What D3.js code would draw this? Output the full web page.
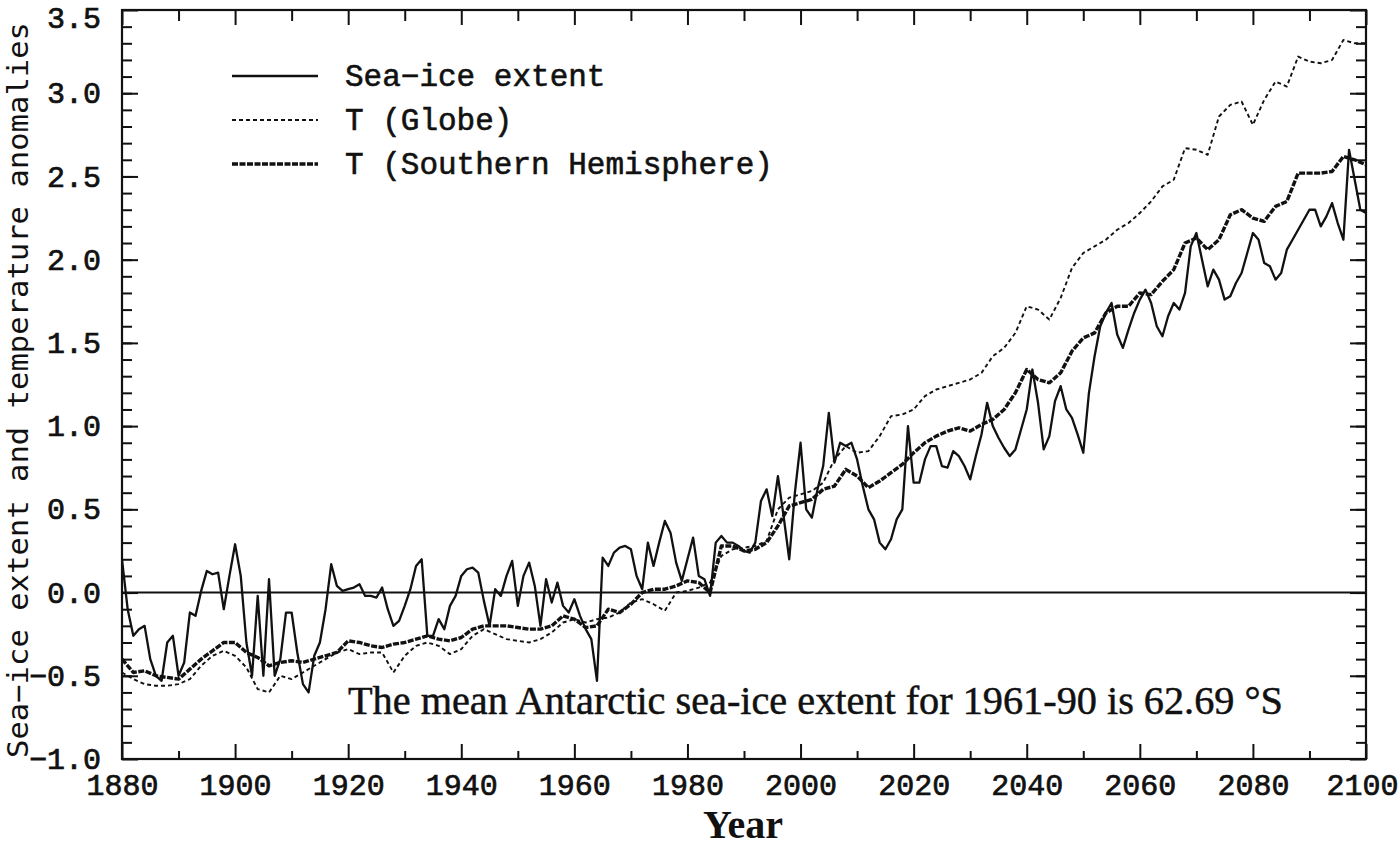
<!DOCTYPE html>
<meta charset="utf-8">
<style>
  body { margin: 0; background: #fff; }
  svg { display: block; }
</style>
<svg width="1400" height="849"></svg>
<script src="https://cdn.jsdelivr.net/npm/d3@7"></script>
<script>

// yearly sea-ice extent anomaly
var iceYears = d3.range(1880, 2101);
var seaIce = [
  0.2, -0.1, -0.26, -0.22, -0.2, -0.4, -0.5, -0.53, -0.3, -0.26,
  -0.5, -0.42, -0.12, -0.14, 0.01, 0.13, 0.11, 0.12, -0.1, 0.1,
  0.29, 0.1, -0.3, -0.5, -0.02, -0.5, 0.08, -0.5, -0.4, -0.12,
  -0.12, -0.36, -0.55, -0.6, -0.38, -0.3, -0.1, 0.17, 0.04, 0.01,
  0.02, 0.03, 0.05, -0.02, -0.02, -0.03, 0.03, -0.1, -0.2, -0.17,
  -0.08, 0.02, 0.16, 0.2, -0.26, -0.26, -0.16, -0.22, -0.08, -0.02,
  0.1, 0.14, 0.15, 0.12, -0.05, -0.2, 0.02, -0.02, 0.1, 0.19,
  -0.08, 0.1, 0.18, 0.04, -0.2, 0.08, -0.06, 0.06, -0.08, -0.12,
  -0.04, -0.14, -0.22, -0.28, -0.53, 0.21, 0.16, 0.24, 0.27, 0.28,
  0.26, 0.1, 0.02, 0.3, 0.16, 0.3, 0.43, 0.36, 0.18, 0.07,
  0.2, 0.33, 0.1, 0.08, -0.02, 0.3, 0.34, 0.3, 0.3, 0.28,
  0.25, 0.24, 0.3, 0.55, 0.62, 0.46, 0.7, 0.46, 0.2, 0.6,
  0.9, 0.5, 0.45, 0.62, 0.76, 1.08, 0.78, 0.9, 0.88, 0.9,
  0.8, 0.64, 0.5, 0.44, 0.3, 0.26, 0.32, 0.44, 0.5, 1.0,
  0.66, 0.66, 0.8, 0.88, 0.88, 0.76, 0.75, 0.85, 0.82, 0.76,
  0.68, 0.82, 0.95, 1.14, 1.0, 0.93, 0.87, 0.82, 0.86, 0.98,
  1.1, 1.34, 1.14, 0.86, 0.94, 1.15, 1.24, 1.1, 1.05, 0.95,
  0.84, 1.2, 1.42, 1.6, 1.68, 1.74, 1.55, 1.47, 1.58, 1.68,
  1.76, 1.82, 1.74, 1.6, 1.54, 1.66, 1.74, 1.7, 1.8, 2.08,
  2.16, 2.0, 1.84, 1.94, 1.88, 1.76, 1.78, 1.86, 1.92, 2.04,
  2.16, 2.12, 1.98, 1.96, 1.88, 1.92, 2.06, 2.12, 2.18, 2.24,
  2.3, 2.3, 2.2, 2.26, 2.34, 2.22, 2.12, 2.66, 2.48, 2.3,
  2.28
];

// temperatures every second year
var tempYears = d3.range(1880, 2101, 2);
var tGlobe = [
  -0.48, -0.52, -0.55, -0.56, -0.56, -0.55, -0.52, -0.44, -0.38, -0.35,
  -0.38, -0.45, -0.58, -0.6, -0.5, -0.52, -0.48, -0.44, -0.4, -0.36,
  -0.34, -0.37, -0.36, -0.36, -0.48, -0.38, -0.32, -0.3, -0.32, -0.37,
  -0.34, -0.26, -0.22, -0.25, -0.28, -0.29, -0.3, -0.28, -0.24, -0.18,
  -0.16, -0.18, -0.16, -0.15, -0.12, -0.06, -0.04, -0.07, -0.11, 0.0,
  0.01, 0.03, 0.06, 0.22, 0.26, 0.27, 0.28, 0.31, 0.5, 0.57,
  0.59, 0.61, 0.66, 0.8, 0.88, 0.84, 0.85, 0.94, 1.06, 1.07,
  1.1, 1.18, 1.22, 1.24, 1.26, 1.28, 1.32, 1.42, 1.47, 1.56,
  1.72, 1.7, 1.64, 1.77, 1.95, 2.04, 2.08, 2.12, 2.18, 2.22,
  2.28, 2.35, 2.44, 2.48, 2.67, 2.66, 2.63, 2.86, 2.93, 2.95,
  2.81, 2.96, 3.07, 3.04, 3.22, 3.19, 3.18, 3.2, 3.32, 3.3,
  3.3
];
var tSouth = [
  -0.4, -0.48, -0.47, -0.5, -0.51, -0.52, -0.46, -0.4, -0.35, -0.3,
  -0.3, -0.36, -0.39, -0.44, -0.42, -0.41, -0.42, -0.4, -0.38, -0.36,
  -0.29, -0.3, -0.32, -0.33, -0.31, -0.3, -0.28, -0.26, -0.28, -0.29,
  -0.27, -0.22, -0.2, -0.2, -0.2, -0.21, -0.22, -0.22, -0.2, -0.14,
  -0.16, -0.21, -0.2, -0.1, -0.12, -0.07, 0.0, 0.02, 0.02, 0.04,
  0.07, 0.06, 0.0, 0.28, 0.28, 0.25, 0.26, 0.3, 0.4, 0.52,
  0.54, 0.56, 0.62, 0.64, 0.74, 0.7, 0.63, 0.67, 0.72, 0.77,
  0.84, 0.9, 0.94, 0.97, 0.99, 0.97, 1.01, 1.04, 1.1, 1.2,
  1.34, 1.28, 1.26, 1.32, 1.45, 1.53, 1.56, 1.68, 1.72, 1.72,
  1.8, 1.79, 1.87, 1.94, 2.1, 2.13, 2.06, 2.12, 2.27, 2.3,
  2.25, 2.23, 2.32, 2.35, 2.52, 2.52, 2.52, 2.53, 2.62, 2.6,
  2.57
];

var xMajor = d3.range(1880, 2101, 20),
    xMid = d3.range(1890, 2100, 20),
    yMajor = d3.range(-1, 3.51, 0.5),
    yMinor = d3.range(-0.9, 3.5, 0.1);

var legendLabels = ["Sea\u2212ice extent", "T (Globe)", "T (Southern Hemisphere)"];

var svg = d3.select("svg"),
    margin = {top: 10, right: 34, bottom: 90, left: 122},
    width = +svg.attr("width") - margin.left - margin.right,
    height = +svg.attr("height") - margin.top - margin.bottom,
    g = svg.append("g").attr("transform", "translate(" + margin.left + "," + margin.top + ")");

var x = d3.scaleLinear().domain([1880, 2100]).range([0, width]);
var y = d3.scaleLinear().domain([-1, 3.5]).range([height, 0]);

var mono = "'Liberation Mono', 'Courier New', monospace";

function styleAxis(sel) {
  sel.select(".domain").remove();
  sel.selectAll("line").attr("stroke", "#111").attr("stroke-width", 2);
  sel.selectAll("text").attr("fill", "#111").attr("stroke", "#111").attr("stroke-width", 0.7);
  sel.attr("font-family", mono).attr("font-size", 30);
}

// ticks, all pointing inward
var yLabels = g.append("g").call(d3.axisLeft(y).tickValues(yMajor).tickSize(-16).tickPadding(21).tickFormat(d3.format(".1f"))).call(styleAxis);
yLabels.selectAll("text").filter(function(d) { return d > 3.4; }).attr("dy", "0.58em");
g.append("g").call(d3.axisLeft(y).tickValues(yMinor).tickSize(-10).tickFormat("")).call(styleAxis);
g.append("g").attr("transform", "translate(" + width + ",0)").call(d3.axisRight(y).tickValues(yMajor).tickSize(-16).tickFormat("")).call(styleAxis);
g.append("g").attr("transform", "translate(" + width + ",0)").call(d3.axisRight(y).tickValues(yMinor).tickSize(-10).tickFormat("")).call(styleAxis);

var xLabels = g.append("g").attr("transform", "translate(0," + height + ")")
  .call(d3.axisBottom(x).tickValues(xMajor).tickSize(-15).tickPadding(15).tickFormat(d3.format("d"))).call(styleAxis);
xLabels.selectAll("text").filter(function(d) { return d === 2100; }).attr("text-anchor", "end").attr("dx", 32);
g.append("g").attr("transform", "translate(0," + height + ")")
  .call(d3.axisBottom(x).tickValues(xMid).tickSize(-8).tickFormat("")).call(styleAxis);
g.append("g").call(d3.axisTop(x).tickValues(xMajor).tickSize(-15).tickFormat("")).call(styleAxis);
g.append("g").call(d3.axisTop(x).tickValues(xMid).tickSize(-11).tickFormat("")).call(styleAxis);

// zero line
g.append("line")
    .attr("x1", 0).attr("x2", width)
    .attr("y1", y(0)).attr("y2", y(0))
    .attr("stroke", "#111").attr("stroke-width", 2);

var styles = [
  {dash: null, w: 2.3},
  {dash: "4,3", w: 1.9},
  {dash: "6,1.5", w: 3.4}
];

var series = [
  iceYears.map(function(d, i) { return [d, seaIce[i]]; }),
  tempYears.map(function(d, i) { return [d, tGlobe[i]]; }),
  tempYears.map(function(d, i) { return [d, tSouth[i]]; })
];

var line = d3.line()
    .x(function(d) { return x(d[0]); })
    .y(function(d) { return y(d[1]); });

g.append("defs").append("clipPath").attr("id", "clip")
  .append("rect").attr("width", width).attr("height", height);

g.append("g").attr("clip-path", "url(#clip)")
  .selectAll("path")
  .data([1, 2, 0])
  .enter().append("path")
    .attr("d", function(k) { return line(series[k]); })
    .attr("fill", "none")
    .attr("stroke", "#111")
    .attr("stroke-linejoin", "round")
    .attr("stroke-width", function(k) { return styles[k].w; })
    .attr("stroke-dasharray", function(k) { return styles[k].dash; });

// frame
g.append("rect")
    .attr("width", width).attr("height", height)
    .attr("fill", "none").attr("stroke", "#111").attr("stroke-width", 2.2);

// legend
var legend = svg.append("g")
  .selectAll("g")
  .data(legendLabels)
  .enter().append("g")
    .attr("transform", function(d, i) { return "translate(232," + (76 + i * 44) + ")"; });

legend.append("line")
    .attr("x2", 86)
    .attr("stroke", "#111")
    .attr("stroke-width", function(d, i) { return styles[i].w; })
    .attr("stroke-dasharray", function(d, i) { return styles[i].dash; });

legend.append("text")
    .attr("x", 113)
    .attr("dy", "0.33em")
    .attr("font-family", mono)
    .attr("font-size", 31)
    .attr("fill", "#111")
    .attr("stroke", "#111")
    .attr("stroke-width", 0.6)
    .text(function(d) { return d; });

// note
svg.append("text")
    .attr("x", 348).attr("y", 714)
    .attr("font-family", "'Liberation Serif', 'Times New Roman', serif")
    .attr("font-size", 39)
    .attr("textLength", 935)
    .attr("lengthAdjust", "spacingAndGlyphs")
    .attr("fill", "#111")
    .attr("stroke", "#111")
    .attr("stroke-width", 0.5)
    .text("The mean Antarctic sea-ice extent for 1961-90 is 62.69 \u00b0S");

// axis titles
svg.append("text")
    .attr("transform", "translate(28,390)rotate(-90)")
    .attr("text-anchor", "middle")
    .attr("font-family", "'DejaVu Sans Mono', monospace")
    .attr("font-size", 29)
    .attr("textLength", 736)
    .attr("lengthAdjust", "spacingAndGlyphs")
    .attr("fill", "#111")
    .text("Sea\u2212ice extent and temperature anomalies");

svg.append("text")
    .attr("x", 743).attr("y", 838)
    .attr("text-anchor", "middle")
    .attr("font-family", "'Liberation Serif', 'Times New Roman', serif")
    .attr("font-weight", "bold")
    .attr("font-size", 40)
    .attr("fill", "#111")
    .text("Year");

</script>
